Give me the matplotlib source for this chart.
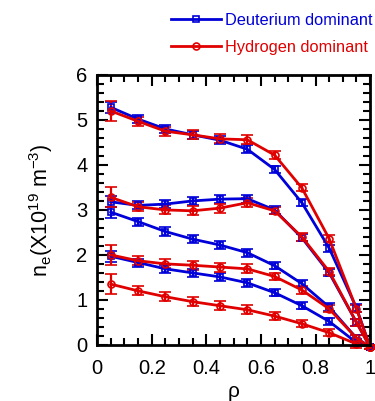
"""
Electron density profiles, D vs H dominant plasmas
"""

import numpy as np
import matplotlib
matplotlib.use("Agg")
import matplotlib.pyplot as plt
from matplotlib.lines import Line2D
from matplotlib.ticker import MultipleLocator

plt.rcParams["font.family"] = ["Liberation Sans", "DejaVu Sans"]
plt.rcParams["mathtext.default"] = "regular"

# ---------- Data ----------
rho = [0.05, 0.15, 0.25, 0.35, 0.45, 0.55, 0.65, 0.75, 0.85, 0.95, 1.0]

# Deuterium dominant (blue squares)
d_high = [5.28, 5.02, 4.80, 4.67, 4.55, 4.35, 3.90, 3.16, 2.15, 0.82, -0.05]
d_mid = [3.18, 3.10, 3.13, 3.20, 3.24, 3.25, 3.00, 2.38, 1.60, 0.50, -0.05]
d_low = [2.95, 2.74, 2.52, 2.35, 2.22, 2.05, 1.76, 1.36, 0.84, 0.15, -0.05]
d_lowest = [1.97, 1.83, 1.69, 1.60, 1.51, 1.38, 1.16, 0.87, 0.52, 0.05, -0.05]

# Hydrogen dominant (red circles)
h_high = [5.20, 4.97, 4.75, 4.67, 4.58, 4.56, 4.22, 3.49, 2.36, 0.80, -0.05]
h_mid = [3.28, 3.07, 3.00, 2.98, 3.04, 3.16, 2.98, 2.40, 1.63, 0.50, -0.05]
h_low = [2.00, 1.87, 1.80, 1.77, 1.73, 1.69, 1.52, 1.22, 0.80, 0.15, -0.05]
h_lowest = [1.35, 1.20, 1.07, 0.96, 0.87, 0.78, 0.64, 0.47, 0.27, 0.02, -0.05]

# error bars: larger at the core point
d_err = [0.12, 0.09, 0.09, 0.09, 0.09, 0.09, 0.08, 0.08, 0.08, 0.08, 0.05]
h_err = [0.22, 0.10, 0.10, 0.10, 0.10, 0.10, 0.08, 0.08, 0.08, 0.08, 0.05]

BLUE = "#0000d8"
RED = "#e00000"

fig = plt.figure(figsize=(3.75, 4.01), dpi=100)
ax = fig.add_axes([0.259, 0.140, 0.728, 0.673])


def draw(ax, y, err, color, marker):
    ax.errorbar(rho, y, yerr=err, color=color, lw=2, marker=marker, ms=5,
                mfc="none", mec=color, mew=1.2, capsize=4, capthick=2.2,
                elinewidth=1.6, clip_on=False)


for y in (d_high, d_mid, d_low, d_lowest):
    draw(ax, y, d_err, BLUE, "s")
for y in (h_high, h_mid, h_low, h_lowest):
    draw(ax, y, h_err, RED, "o")

ax.set_xlim(0, 1)
ax.set_ylim(0, 6)
ax.xaxis.set_minor_locator(MultipleLocator(0.05))
ax.yaxis.set_major_locator(MultipleLocator(1))
ax.yaxis.set_minor_locator(MultipleLocator(0.2))
ax.set_xticks(np.arange(0, 1.01, 0.2))
ax.set_xticklabels(["0", "0.2", "0.4", "0.6", "0.8", "1"])
ax.tick_params(which="both", direction="in", top=True, right=True,
               labelsize=14.5, width=1.5)
ax.tick_params(which="major", length=8, pad=7)
ax.tick_params(axis="x", which="major", pad=10)
ax.tick_params(which="minor", length=5)
for s in ax.spines.values():
    s.set_linewidth(2)

ax.set_ylabel("n$_e$(X10$^{19}$ m$^{-3}$)", fontsize=15.5, labelpad=15)
ax.set_xlabel("\u03c1", fontsize=15, labelpad=3)

handles = [
    Line2D([], [], color=BLUE, lw=2, marker="s", ms=5, mfc="none", mew=1.2),
    Line2D([], [], color=RED, lw=2, marker="o", ms=5, mfc="none", mew=1.2),
]
leg = fig.legend(handles, ["Deuterium dominant", "Hydrogen dominant"],
                 loc="upper right", bbox_to_anchor=(0.997, 0.972),
                 frameon=False, fontsize=11.8, handlelength=3.0,
                 handletextpad=0.25, labelspacing=0.75, borderpad=0.1,
                 borderaxespad=0)
for txt, c in zip(leg.get_texts(), (BLUE, RED)):
    txt.set_color(c)

fig.savefig("out.png", dpi=100)
